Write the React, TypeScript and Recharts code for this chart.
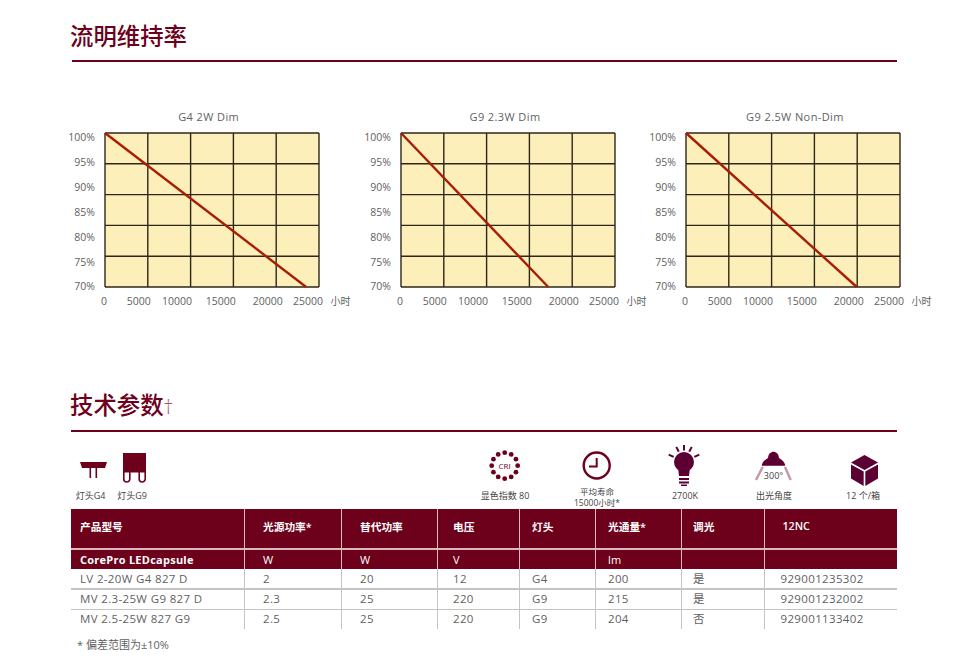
import React from 'react';
import { LineChart, Line, XAxis, YAxis, CartesianGrid } from 'recharts';

const FONT = '"Open Sans","Noto Sans CJK SC",sans-serif';
const CJK = '"Noto Sans CJK SC",sans-serif';
const WINE = '#6d001b';
const PURPLE = '#5c0033';
const TEXT = '#5f5f5f';

// chart data
const g4Hours = [0, 23500];
const g4Flux = [100, 70];
const g923Hours = [0, 17200];
const g923Flux = [100, 70];
const g925Hours = [0, 19950];
const g925Flux = [100, 70];
const xTicks = [0, 5000, 10000, 15000, 20000, 25000];
const yLabelTicks = [70, 75, 80, 85, 90, 95, 100];
const yGridTicks = [70, 76, 82, 88, 94, 100];
const xLabelShift = [-1, -9, -13.6, -12.7, -8.5, -11];
const yLabelShift = [-0.3, 0.4, 1.6, 2.7, 3, 4, 4.7];

// table
const headers = ['产品型号', '光源功率*', '替代功率', '电压', '灯头', '光通量*', '调光', '12NC'];
const units = ['CorePro LEDcapsule', 'W', 'W', 'V', '', 'lm', '', ''];
const row1 = ['LV 2-20W G4 827 D', '2', '20', '12', 'G4', '200', '是', '929001235302'];
const row2 = ['MV 2.3-25W G9 827 D', '2.3', '25', '220', 'G9', '215', '是', '929001232002'];
const row3 = ['MV 2.5-25W 827 G9', '2.5', '25', '220', 'G9', '204', '否', '929001133402'];
const colEdges = [71, 244, 341, 437, 519, 595.5, 681, 764, 897];
const textX = [80, 263, 360, 453, 532, 608, 693, 780.5];

const toRows = (h: number[], f: number[]) => h.map((hours, i) => ({ hours, flux: f[i] }));

function XTick(props: any) {
  const { x, y, payload, index } = props;
  return (
    <g>
      <text x={x + xLabelShift[index]} y={y + 12} textAnchor="middle" fontSize={10.5} fontFamily={FONT} fill={TEXT}>
        {payload.value}
      </text>
      {index === xTicks.length - 1 && (
        <text x={x + 21.5} y={y + 12} textAnchor="middle" fontSize={10} fontFamily={CJK} fill={TEXT}>小时</text>
      )}
    </g>
  );
}

function YTick(props: any) {
  const { x, y, payload } = props;
  const shift = yLabelShift[yLabelTicks.indexOf(payload.value)] ?? 0;
  return (
    <text x={x} y={y + shift} dy="0.36em" textAnchor="end" fontSize={10.5} fontFamily={FONT} fill={TEXT}>
      {`${payload.value}%`}
    </text>
  );
}

function Panel({ left, title, titleX, hours, flux }: any) {
  return (
    <>
      <div style={{ position: 'absolute', left: titleX - 100, width: 200, top: 109, textAlign: 'center', fontSize: 11, letterSpacing: 0.4, lineHeight: '16px', fontFamily: FONT, color: TEXT }}>{title}</div>
      <div style={{ position: 'absolute', left: left - 45, top: 100 }}>
        <LineChart width={300} height={217} data={toRows(hours, flux)} margin={{ left: 44, right: 41, top: 33, bottom: 0 }}>
          <CartesianGrid fill="#fdefba" stroke="#2e2618" strokeWidth={1.4} horizontalValues={yGridTicks} verticalValues={xTicks} syncWithTicks={false} />
          <XAxis dataKey="hours" type="number" domain={[0, 25000]} ticks={xTicks} interval={0} height={30} tickLine={false} axisLine={false} tickMargin={0} tick={<XTick />} />
          <YAxis type="number" domain={[70, 100]} ticks={yLabelTicks} interval={0} width={1} tickLine={false} axisLine={false} tickMargin={4} tick={<YTick />} />
          <Line dataKey="flux" stroke="#a81d04" strokeWidth={2.4} dot={false} isAnimationActive={false} />
        </LineChart>
      </div>
    </>
  );
}

const abs = (x: number, y: number, s: any = {}) => ({ position: 'absolute', left: x, top: y, ...s });

function Caption({ cx, cy, children, lh = 14, fs = 9 }: any) {
  return <div style={{ position: 'absolute', left: cx - 50, width: 100, top: cy - 7, lineHeight: `${lh}px`, textAlign: 'center', fontSize: fs, fontFamily: FONT, color: '#444' }}>{children}</div>;
}

const criAngles = [0, 30, 60, 90, 120, 150, 180, 210, 240, 270, 300, 330];
const rayAngles = [-64, -27, 0, 27, 64];

function Icons() {
  return (
    <svg width={980} height={664} style={{ position: 'absolute', left: 0, top: 0 }}>
      {/* G4 */}
      <path d="M80 462H107L105 468H82Z" fill={WINE} />
      <rect x={89.5} y={467} width={1.6} height={11} fill={WINE} />
      <rect x={95.5} y={467} width={1.6} height={11} fill={WINE} />
      {/* G9 */}
      <rect x={123} y={453} width={23} height={19.5} fill={WINE} />
      <path d="M123.8 472V479a3 3 0 0 0 6 0V472M139.2 472V479a3 3 0 0 0 6 0V472" fill="none" stroke={WINE} strokeWidth={1.6} />
      {/* CRI */}
      {criAngles.map((a) => (
        <circle key={a} cx={504.7 + 13 * Math.cos((a * Math.PI) / 180)} cy={465.7 + 13 * Math.sin((a * Math.PI) / 180)} r={2.4} fill={WINE} />
      ))}
      <text x={504.7} y={468.5} textAnchor="middle" fontSize={8} fontFamily={FONT} fill={WINE}>CRI</text>
      {/* clock */}
      <circle cx={596.7} cy={465.5} r={13} fill="none" stroke={WINE} strokeWidth={2.4} />
      <path d="M596.7 458V466.5H589" fill="none" stroke={WINE} strokeWidth={2} />
      {/* bulb */}
      <circle cx={684} cy={462} r={10} fill={PURPLE} />
      <path d="M678 467H690L689 476H679Z" fill={PURPLE} />
      <rect x={679} y={478} width={10} height={2} fill={PURPLE} />
      <rect x={679} y={481.5} width={10} height={2} fill={PURPLE} />
      <rect x={681} y={484.5} width={6} height={1.5} fill={PURPLE} />
      {rayAngles.map((a) => (
        <rect key={a} x={683} y={445} width={2} height={5.5} fill={PURPLE} transform={`rotate(${a} 684 462)`} />
      ))}
      {/* beam */}
      <path d="M761.7 465.7C762.5 461 766 459.5 768 458C768.5 449.5 778.5 449.5 779 458C781 459.5 784.5 461 785.3 465.7Z" fill={PURPLE} />
      <path d="M762.7 467L756 480M785 467L790.7 480" fill="none" stroke="#c49aa4" strokeWidth={2.5} />
      <text x={773.5} y={478.5} textAnchor="middle" fontSize={9} fontFamily={FONT} fill="#444">300°</text>
      {/* cube */}
      <path d="M864.5 455L851 462.5L864.5 470L878 462.5Z" fill={PURPLE} />
      <path d="M851 464.5V478.5L863.7 486V471.5Z" fill={PURPLE} />
      <path d="M878 464.5V478.5L865.3 486V471.5Z" fill={PURPLE} />
    </svg>
  );
}

function SpecTable() {
  const cols = colEdges.slice(0, -1).map((e, i) => ({ l: e, w: colEdges[i + 1] - e, tx: textX[i] }));
  const lineCols = colEdges.slice(1, -1);
  const bodyRows = [row1, row2, row3];
  const cellY = [579, 599, 619];
  return (
    <>
      <div style={abs(71, 509, { width: 826, height: 60, background: WINE })} />
      <div style={abs(71, 548, { width: 826, height: 1.5, background: '#d9b8c0' })} />
      <div style={abs(71, 588, { width: 826, height: 1.5, background: '#c4c4c4' })} />
      <div style={abs(71, 608.5, { width: 826, height: 1.5, background: '#c4c4c4' })} />
      {lineCols.map((e) => (
        <React.Fragment key={e}>
          <div style={abs(e - 0.5, 509, { width: 1.2, height: 60, background: '#d9b8c0' })} />
          <div style={abs(e - 0.5, 569, { width: 1.2, height: 60, background: '#c4c4c4' })} />
        </React.Fragment>
      ))}
      {cols.map((c, i) => (
        <React.Fragment key={i}>
          <div style={abs(i === 7 ? c.tx + 2 : c.tx, i === 7 ? 518 : 519, { lineHeight: '16px', fontSize: 10.7, fontWeight: 600, color: '#fff', fontFamily: FONT, whiteSpace: 'nowrap' })}>{headers[i]}</div>
          <div style={abs(c.tx, 552, { lineHeight: '16px', fontSize: 11, letterSpacing: 0.25, fontWeight: i === 0 ? 700 : 400, color: '#fff', fontFamily: FONT, whiteSpace: 'nowrap' })}>{units[i]}</div>
          {bodyRows.map((r, j) => (
            <div key={j} style={abs(c.tx, cellY[j] - 8, { lineHeight: '16px', fontSize: 11.5, letterSpacing: 0.35, color: TEXT, fontFamily: FONT, whiteSpace: 'nowrap' })}>{r[i]}</div>
          ))}
        </React.Fragment>
      ))}
    </>
  );
}

export default function App() {
  return (
    <div style={{ position: 'absolute', left: 0, top: 0, width: 980, height: 664, background: '#fff', overflow: 'hidden' }}>
      <div style={abs(70, 18, { fontSize: 23.4, lineHeight: '34px', fontFamily: CJK, fontWeight: 500, color: WINE })}>流明维持率</div>
      <div style={abs(72, 60, { width: 825, height: 2, background: WINE })} />
      <Panel left={105} title="G4 2W Dim" titleX={208.7} hours={g4Hours} flux={g4Flux} />
      <Panel left={400.5} title="G9 2.3W Dim" titleX={505} hours={g923Hours} flux={g923Flux} />
      <Panel left={686.3} title="G9 2.5W Non-Dim" titleX={795} hours={g925Hours} flux={g925Flux} />
      <div style={abs(70, 387, { fontSize: 23.4, lineHeight: '34px', fontFamily: CJK, fontWeight: 500, color: WINE, whiteSpace: 'nowrap' })}>技术参数<span style={{ color: '#a8505f', fontWeight: 300, fontSize: 20, fontFamily: '"Open Sans"' }}>†</span></div>
      <div style={abs(71, 430, { width: 826, height: 2, background: WINE })} />
      <Icons />
      <Caption cx={90.7} cy={496}>灯头G4</Caption>
      <Caption cx={132} cy={496}>灯头G9</Caption>
      <Caption cx={505} cy={496}>显色指数 80</Caption>
      <Caption cx={597} cy={492.5} lh={11} fs={8.5}>平均寿命<br />15000小时*</Caption>
      <Caption cx={685} cy={496}>2700K</Caption>
      <Caption cx={774} cy={496}>出光角度</Caption>
      <Caption cx={863} cy={496}>12 个/箱</Caption>
      <SpecTable />
      <div style={abs(77, 637, { fontSize: 11, lineHeight: '16px', fontFamily: FONT, color: TEXT })}>* 偏差范围为±10%</div>
    </div>
  );
}
